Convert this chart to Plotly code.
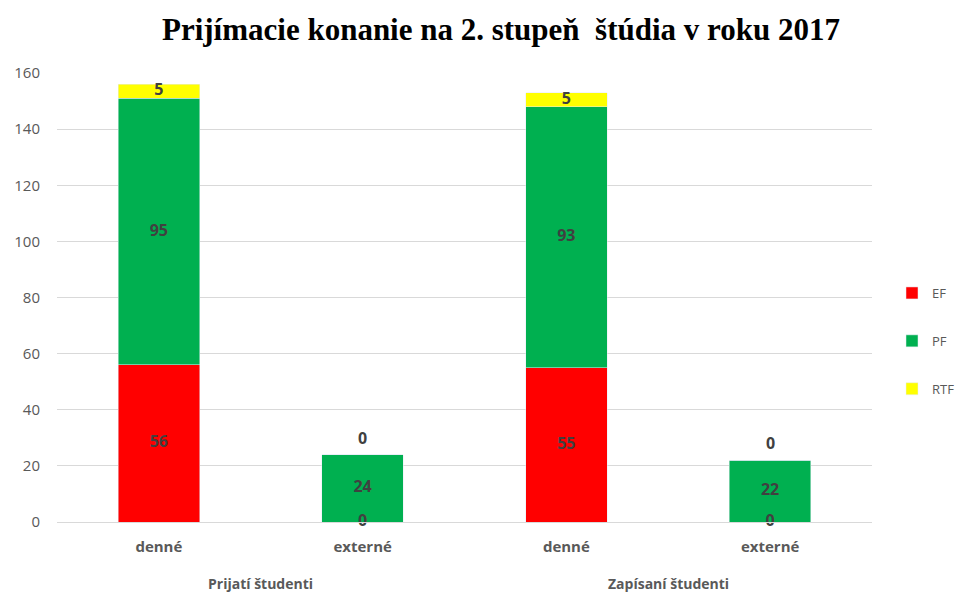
import plotly.graph_objects as go

groups = ["Prijatí študenti", "Prijatí študenti", "Zapísaní študenti", "Zapísaní študenti"]
forms = ["denné", "externé", "denné", "externé"]
series_names = ["EF", "PF", "RTF"]
ef = [56, 0, 55, 0]
pf = [95, 24, 93, 22]
rtf = [5, 0, 5, 0]
colors = ["#FF0000", "#00B050", "#FFFF00"]

FIG_W, FIG_H = 958, 585
xs = list(range(len(forms)))
fig = go.Figure()
values = [ef, pf, rtf]
for i, (name, vals, col) in enumerate(zip(series_names, values, colors)):
    fig.add_trace(go.Bar(x=xs, y=vals, name=name, marker_color=col, width=0.4,
                         legendgroup=name, hoverinfo="y+name"))

label_font = dict(family="Open Sans", size=16, color="#404040", weight="bold")
# labels
lx, ly, lt = [], [], []
base = [0] * len(xs)
for si, vals in enumerate(values):
    for j, v in enumerate(vals):
        if v == 0 and si == len(values) - 1:
            fig.add_annotation(x=xs[j], y=base[j], text=str(v), showarrow=False,
                               yanchor="bottom", yshift=4, font=label_font)
        else:
            lx.append(xs[j])
            ly.append(base[j] + v / 2)
            lt.append(str(v))
        base[j] += v
fig.add_trace(go.Scatter(x=lx, y=ly, text=lt, mode="text", textposition="middle center",
                         textfont=label_font,
                         showlegend=False, hoverinfo="skip", cliponaxis=False))

# group labels
grp_names = []
for g in groups:
    if g not in grp_names:
        grp_names.append(g)
for g in grp_names:
    idx = [i for i, gg in enumerate(groups) if gg == g]
    fig.add_annotation(x=sum(idx) / len(idx), y=-0.136, yref="paper", xref="x",
                       text=g, showarrow=False, yanchor="middle",
                       font=dict(family="Open Sans", size=14, color="#595959", weight="bold"))

fig.update_layout(
    barmode="stack",
    width=FIG_W, height=FIG_H,
    margin=dict(l=49, r=94, t=65, b=71, autoexpand=False),
    plot_bgcolor="white", paper_bgcolor="white",
    title=dict(text="<b>Prijímacie konanie na 2. stupeň  štúdia v roku 2017</b>",
               x=493 / FIG_W, xanchor="center", y=1 - 21 / FIG_H, yanchor="middle",
               font=dict(family="Liberation Serif", size=31, color="black")),
    legend=dict(x=884 / FIG_W, y=1 - 333 / FIG_H, xref="container", yref="container",
                xanchor="left", yanchor="middle",
                font=dict(family="Open Sans", size=13, color="#595959"),
                traceorder="grouped", tracegroupgap=28),
    showlegend=True,
)
fig.update_xaxes(tickmode="array", tickvals=xs, ticktext=forms, range=[-0.5, 3.5],
                 showgrid=False, showline=True, linecolor="#d9d9d9", ticks="",
                 ticklabelstandoff=11,
                 tickfont=dict(family="Open Sans", size=15, color="#595959", weight="bold"))
fig.update_yaxes(range=[0, 160], dtick=20, showgrid=True, gridcolor="#d9d9d9",
                 zeroline=False, ticks="", ticklen=0, ticklabelstandoff=16,
                 tickfont=dict(family="Open Sans", size=15, color="#595959"))
fig.write_html("out.html")
